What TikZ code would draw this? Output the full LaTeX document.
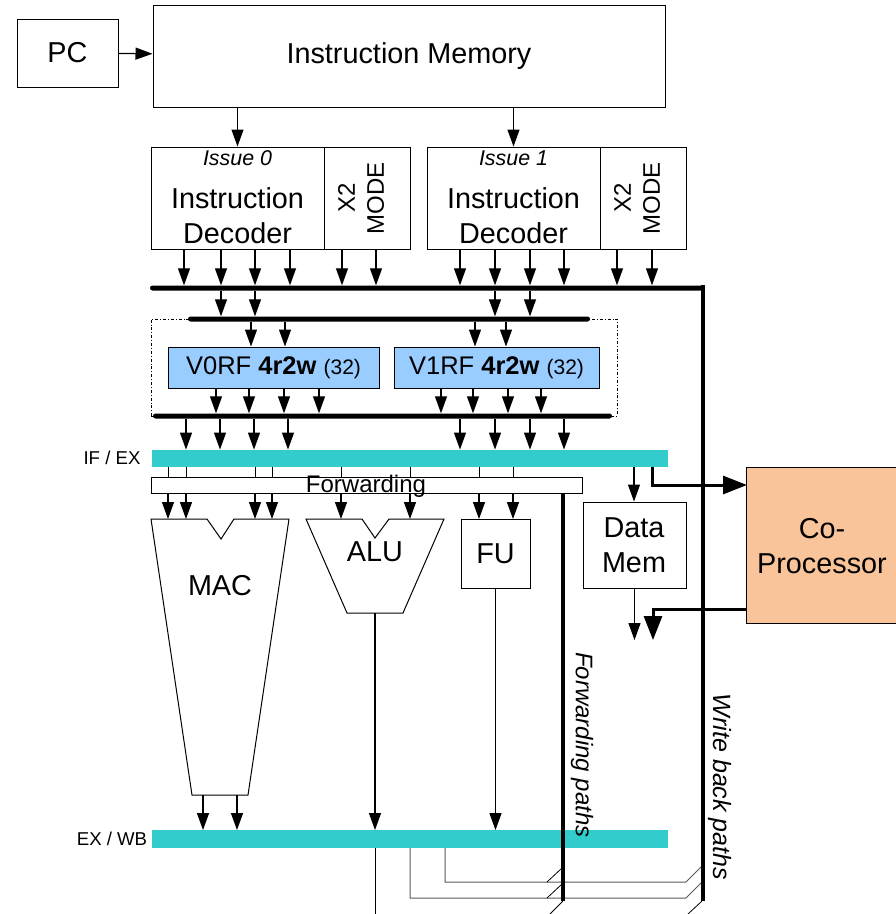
\documentclass[tikz,border=0pt]{standalone}
\usepackage{fontspec}
\setmainfont{Liberation Sans}
\usepackage{xcolor}
\usetikzlibrary{arrows.meta, positioning}

\definecolor{regcyan}{HTML}{33CCCC}
\definecolor{rfblue}{HTML}{99CCFF}
\definecolor{copeach}{HTML}{F9C499}

\begin{document}
\begin{tikzpicture}[
  x=1pt, y=-1pt,
  box/.style={rectangle, draw, line width=1pt, fill=white, inner sep=0pt},
  bigtext/.style={font=\fontsize{28.8}{35}\selectfont, align=center, inner sep=0pt},
  midtext/.style={font=\fontsize{24}{29}\selectfont, align=center, inner sep=0pt},
  issue/.style={font=\fontsize{21.4}{25}\selectfont\itshape, inner sep=0pt},
  stage/.style={font=\fontsize{18.6}{22}\selectfont, inner sep=0pt},
  bus/.style={rectangle, fill=black, inner sep=0pt, minimum height=5pt, rounded corners=2.5pt},
  reg/.style={rectangle, fill=regcyan, inner sep=0pt, minimum width=516pt, minimum height=17.5pt},
  regfile/.style={rectangle, draw, line width=1pt, fill=rfblue, inner sep=0pt, minimum height=41pt, font=\fontsize{25.5}{30}\selectfont},
  arrow/.style={-{Triangle[length=17pt,width=12pt]}, line width=1.2pt},
  bigarrow/.style={-{Triangle[length=24pt,width=18pt]}, line width=3pt},
  wire/.style={line width=1pt, draw=black!65},
  widepath/.style={line width=4.5pt}
]
\useasboundingbox (0,0) rectangle (896,914);

% ---------------------------------------------------
% Coordinate Grid
% ---------------------------------------------------
\def\yDec{198}
\def\yIfEx{458.5}
\def\yExWb{839}
\def\yUnitTop{519}

% ---------------------------------------------------
% 1. Fetch & Decode
% ---------------------------------------------------
\node[box, minimum width=101pt, minimum height=68pt] (pc) at (67.5,53) {};
\node[bigtext] (pctxt) at (pc) {PC};

\node[box, minimum width=512pt, minimum height=102pt] (imem) at (409,56) {};
\node[bigtext] (imemtxt) at (imem) {Instruction Memory};

\node[box, minimum width=173pt, minimum height=102pt] (dec0) at (237.5,\yDec) {};
\node[box, minimum width=86pt, minimum height=102pt] (xmode0) at (367,\yDec) {};
\node[box, minimum width=173pt, minimum height=102pt] (dec1) at (513.5,\yDec) {};
\node[box, minimum width=86pt, minimum height=102pt] (xmode1) at (643,\yDec) {};

\node[issue] (iss0) at (237.5,158) {Issue 0};
\node[issue] (iss1) at (513.5,158) {Issue 1};
\node[bigtext] (dectxt0) at (237.5,215.5) {Instruction\\Decoder};
\node[bigtext] (dectxt1) at (513.5,215.5) {Instruction\\Decoder};
\node[midtext, rotate=90] (xtxt0) at (361,198) {X2\\MODE};
\node[midtext, rotate=90] (xtxt1) at (637,198) {X2\\MODE};

% ---------------------------------------------------
% 2. Register Files & Buses
% ---------------------------------------------------
\node[rectangle, draw, line width=0.8pt, dash dot, minimum width=466pt, minimum height=97pt] (rfgroup) at (384,367.5) {};

\node[bus, minimum width=553pt] (busA) at (426.5,288) {};
\node[bus, minimum width=402pt] (busB) at (389,319) {};
\node[bus, minimum width=459pt] (busC) at (382.5,416) {};

\node[regfile, minimum width=211pt] (rf0) at (273.5,367.5) {V0RF \textbf{4r2w} {\fontsize{21}{25}\selectfont(32)}};
\node[regfile, minimum width=205pt] (rf1) at (496.5,367.5) {V1RF \textbf{4r2w} {\fontsize{21}{25}\selectfont(32)}};

% ---------------------------------------------------
% 3. Pipeline Registers & Execute Units
% ---------------------------------------------------
\node[reg] (ifex) at (410,\yIfEx) {};
\node[stage] (ifextxt) at (112,458) {IF / EX};
\node[reg] (exwb) at (410,\yExWb) {};
\node[stage] (exwbtxt) at (112,839) {EX / WB};

\node[box, minimum width=431pt, minimum height=16pt] (fwd) at (366.5,485) {};
\node[midtext] (fwdtxt) at (366,486.5) {Forwarding};

\coordinate (unittop) at (0,\yUnitTop);
\draw[line width=1pt] (151,519) -- (207,519) -- (221,539) -- (234,519) -- (289,519) -- (248,795) -- (192,795) -- cycle;
\node[bigtext] (mactxt) at (220,586) {MAC};
\coordinate (macbot) at (0,795);

\draw[line width=1pt] (306,519) -- (362,519) -- (375,538) -- (389,519) -- (444,519) -- (403,613) -- (347,613) -- cycle;
\node[bigtext] (alutxt) at (375,552) {ALU};
\coordinate (aluout) at (375,613);

\node[box, minimum width=69pt, minimum height=69pt] (fu) at (495.5,553.5) {};
\node[bigtext] (futxt) at (fu) {FU};

\node[box, minimum width=103pt, minimum height=86pt] (dmem) at (634.5,545) {};
\node[bigtext] (dmemtxt) at (634,545) {Data\\Mem};

\node[rectangle, fill=copeach, inner sep=0pt, minimum width=149pt, minimum height=155pt] (copro) at (821.5,545.5) {};
\draw[line width=1pt] (copro.north east) -- (copro.north west) -- (copro.south west) -- (copro.south east);
\node[bigtext] (coprotxt) at (822,546) {Co-\\Processor};

% ---------------------------------------------------
% Free ends of paths
% ---------------------------------------------------
\coordinate (cpin) at (747,485);
\coordinate (cpout) at (747,609);
\coordinate (cpend) at (653,640);
\coordinate (fwdbot) at (563,901);
\coordinate (wbbot) at (703,901);
\coordinate (imgbot) at (0,914);

% ---------------------------------------------------
% Draw Connections
% ---------------------------------------------------
\draw[arrow] (pc) -- (imem);
\draw[arrow] (imem.south -| dec0.north) -- (dec0.north);
\draw[arrow] (imem.south -| dec1.north) -- (dec1.north);

\foreach \x in {184,221,255,290}
  \draw[arrow] (\x,0 |- dec0.south) -- (\x,0 |- busA.north);
\foreach \x in {342,376}
  \draw[arrow] (\x,0 |- xmode0.south) -- (\x,0 |- busA.north);
\foreach \x in {460,495,530,564}
  \draw[arrow] (\x,0 |- dec1.south) -- (\x,0 |- busA.north);
\foreach \x in {617,652}
  \draw[arrow] (\x,0 |- xmode1.south) -- (\x,0 |- busA.north);

\foreach \x in {221,255,495,530}
  \draw[arrow] (\x,0 |- busA.south) -- (\x,0 |- busB.north);

\foreach \x in {251,285}
  \draw[arrow] (\x,0 |- busB.south) -- (\x,0 |- rf0.north);
\foreach \x in {475,506}
  \draw[arrow] (\x,0 |- busB.south) -- (\x,0 |- rf1.north);

\foreach \x in {216,249,284,319}
  \draw[arrow] (\x,0 |- rf0.south) -- (\x,0 |- busC.north);
\foreach \x in {441,473,508,541}
  \draw[arrow] (\x,0 |- rf1.south) -- (\x,0 |- busC.north);

\foreach \x in {186,220,254,288,460,495,530,564}
  \draw[arrow] (\x,0 |- busC.south) -- (\x,0 |- ifex.north);

\foreach \x in {168,186,255,272,341,410,479,513} {
  \draw[line width=1pt] (\x,0 |- ifex.south) -- (\x,0 |- fwd.north);
  \draw[arrow] (\x,0 |- fwd.south) -- (\x,0 |- unittop);
}

\draw[arrow] (634,0 |- ifex.south) -- (634,0 |- dmem.north);
\draw[bigarrow] (652,0 |- ifex.south) |- (cpin);
\draw[bigarrow] (cpout) -| (cpend);
\draw[arrow] (dmem.south) -- (dmem.south |- cpend);

\foreach \x in {203,237}
  \draw[arrow] (\x,0 |- macbot) -- (\x,0 |- exwb.north);
\draw[arrow] (aluout) -- (aluout |- exwb.north);
\draw[arrow] (fu.south) -- (fu.south |- exwb.north);

% lines leaving EX / WB
\draw[line width=1pt] (aluout |- exwb.south) -- (aluout |- imgbot);
\draw[wire] (445,0 |- exwb.south) |- (686,882) -- (701,867);
\draw[wire] (410,0 |- exwb.south) |- (686,898) -- (701,883);
\draw[line width=0.8pt] (547,882) -- (562,868);
\draw[line width=0.8pt] (547,898) -- (562,884);
\draw[line width=0.8pt] (550,914) -- (563,901);
\draw[line width=0.8pt] (688,914) -- (702,901);

% forwarding and write back paths
\draw[widepath] (fwd.south -| fwdbot) -- (fwdbot);
\draw[widepath] (busA.north east) -- (busA.north east |- wbbot);
\node[midtext, font=\fontsize{24}{29}\selectfont\itshape, rotate=-90] (fwdpath) at (582,745) {Forwarding paths};
\node[midtext, font=\fontsize{25}{30}\selectfont\itshape, rotate=-90] (wbpath) at (720,787) {Write back paths};

\end{tikzpicture}
\end{document}
